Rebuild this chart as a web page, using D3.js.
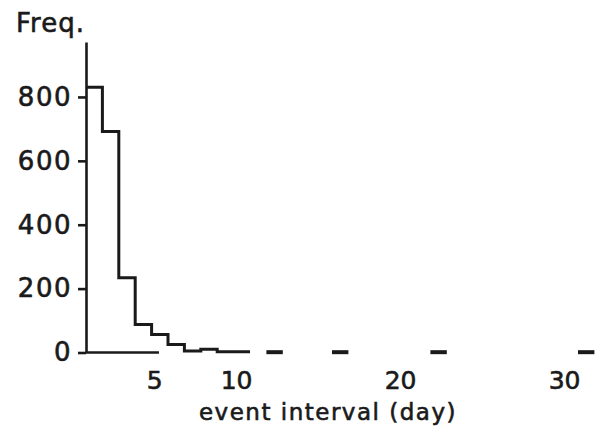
<!DOCTYPE html>
<html>
<head>
<meta charset="utf-8">
<script src="https://cdn.jsdelivr.net/npm/d3@7"></script>
<style>
    body { margin: 0; background: #fff; }
    text { font-family: "DejaVu Sans", sans-serif; fill: #1a1a1a; stroke: #1a1a1a; stroke-width: 0.6px; }
</style>
</head>
<body>
<div id="chart"></div>
<script>

// histogram bins, start day of each 1-day bin and its count
const binStarts = [1, 2, 3, 4, 5, 6, 7, 8, 9, 10];
const binCounts = [830, 692, 234, 88, 56, 25, 5, 10, 2, 2];

// isolated long intervals (single events)
const rareStarts = [12, 16, 22, 31];
const rareCounts = [1, 1, 1, 1];

const yTicks = [0, 200, 400, 600, 800];
const xTicks = [5, 10, 20, 30];

const width = 600;
const height = 431;

const svg = d3.select("#chart")
    .append("svg")
    .attr("width", width)
    .attr("height", height);

/*
SCALES
*/
const xScale = d3.scaleLinear()
    .domain([1, 31])
    .range([86, 578]);

const yScale = d3.scaleLinear()
    .domain([0, 972])
    .range([352.5, 42]);

/*
AXES
*/
const yAxis = svg.append("g")
    .attr("class", "axis")
    .attr("transform", `translate(${xScale(1)},0)`)
    .call(d3.axisLeft(yScale).tickValues(yTicks).tickSize(8).tickSizeOuter(0).tickPadding(6));

yAxis.select(".domain")
    .attr("stroke", "#1a1a1a")
    .attr("stroke-width", 2.6);
yAxis.selectAll(".tick line")
    .attr("stroke", "#1a1a1a")
    .attr("stroke-width", 2.6);
yAxis.selectAll(".tick text")
    .style("font-size", "26px")
    .style("letter-spacing", "1.5px")
    .attr("fill", "#1a1a1a");

// zero line, only drawn under the first bins
svg.append("line")
    .attr("x1", xScale(1))
    .attr("x2", xScale(5.45))
    .attr("y1", yScale(0))
    .attr("y2", yScale(0))
    .attr("stroke", "#1a1a1a")
    .attr("stroke-width", 2.6);

// x tick labels, no tick marks
svg.append("g")
    .selectAll("text")
    .data(xTicks)
    .enter()
    .append("text")
    .attr("x", function (d) { return xScale(d) + 3; })
    .attr("y", 389)
    .attr("text-anchor", "middle")
    .style("font-size", "25px")
    .text(function (d) { return d; });

/*
HISTOGRAM STEP LINE
*/
const stepPoints = binStarts.map(function (d, i) { return [d, binCounts[i]]; });
stepPoints.push([binStarts[binStarts.length - 1] + 1, binCounts[binCounts.length - 1]]);

const step = d3.line()
    .x(function (d) { return xScale(d[0]); })
    .y(function (d) { return yScale(d[1]); })
    .curve(d3.curveStepAfter);

svg.append("path")
    .datum(stepPoints)
    .attr("d", step)
    .attr("fill", "none")
    .attr("stroke", "#1a1a1a")
    .attr("stroke-width", 3)
    .attr("stroke-linejoin", "miter");

// isolated bins drawn as short dashes
svg.selectAll(".rare")
    .data(rareStarts)
    .enter()
    .append("line")
    .attr("class", "rare")
    .attr("x1", function (d) { return xScale(d); })
    .attr("x2", function (d) { return xScale(d + 1); })
    .attr("y1", function (d, i) { return yScale(rareCounts[i]); })
    .attr("y2", function (d, i) { return yScale(rareCounts[i]); })
    .attr("stroke", "#1a1a1a")
    .attr("stroke-width", 4);

/*
LABELS
*/
svg.append("text")
    .attr("x", 16)
    .attr("y", 32)
    .style("font-size", "26px")
    .style("letter-spacing", "1px")
    .text("Freq.");

svg.append("text")
    .attr("x", 328)
    .attr("y", 420)
    .attr("text-anchor", "middle")
    .style("font-size", "23px")
    .style("letter-spacing", "1.5px")
    .text("event interval (day)");

</script>
</body>
</html>
